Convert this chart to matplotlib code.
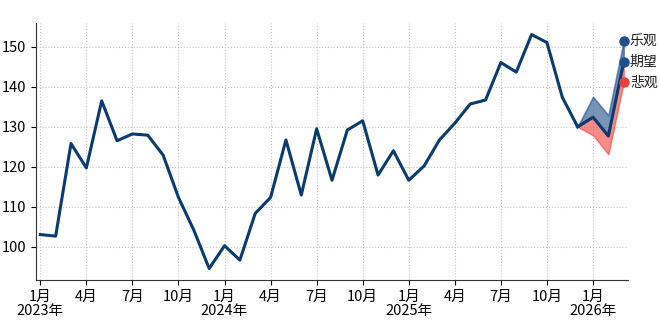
import matplotlib
matplotlib.use("Agg")
import matplotlib.pyplot as plt
import numpy as np

plt.rcParams['font.family'] = ['Noto Sans CJK SC', 'DejaVu Sans']

# monthly index history, Jan 2023 .. Dec 2025
history = [103.0, 102.6, 125.8, 119.7, 136.5, 126.5, 128.2, 127.9, 122.9, 112.3, 104.1, 94.5,
           100.2, 96.6, 108.3, 112.3, 126.7, 112.9, 129.5, 116.6, 129.2, 131.5, 117.9, 124.0,
           116.6, 120.2, 126.7, 130.9, 135.7, 136.7, 146.1, 143.7, 153.1, 151.1, 137.4, 130.0]

# forecast Dec 2025 .. Mar 2026
expected = [130.0, 132.4, 127.7, 146.3]
optimistic = [130.0, 137.5, 132.9, 151.5]
pessimistic = [130.0, 127.9, 123.1, 141.1]
scenario_names = ['乐观', '期望', '悲观']

tick_labels = ['1月\n2023年', '4月', '7月', '10月',
               '1月\n2024年', '4月', '7月', '10月',
               '1月\n2025年', '4月', '7月', '10月',
               '1月\n2026年']

navy = '#0b3a6f'
blue = '#1e4f8a'
red = '#ee3f3a'

x_hist = np.arange(len(history))
x_fc = np.arange(len(history) - 1, len(history) - 1 + len(expected))

fig = plt.figure(figsize=(6.6, 3.23), dpi=100)
ax = fig.add_axes([0.055, 0.133, 0.897, 0.797])

ax.fill_between(x_fc, expected, optimistic, color=blue, alpha=0.6, linewidth=1.2,
                edgecolor=blue, zorder=2)
ax.fill_between(x_fc, pessimistic, expected, color=red, alpha=0.6, linewidth=1.0,
                edgecolor=red, zorder=2)
ax.plot(x_hist, history, color=navy, lw=2.2, zorder=3)
ax.plot(x_fc, expected, color=navy, lw=2.2, zorder=3)

ends = [optimistic[-1], expected[-1], pessimistic[-1]]
dot_colors = [blue, blue, red]
for name, v, c in zip(scenario_names, ends, dot_colors):
    ax.scatter([x_fc[-1]], [v], s=42, color=c, zorder=4, clip_on=False)
    ax.annotate(name, (x_fc[-1], v), xytext=(4.5, 0), textcoords='offset points',
                va='center', ha='left', fontsize=10, color='#222222')

ax.set_xticks(np.arange(0, len(tick_labels) * 3, 3))
ax.set_xticklabels(tick_labels, fontsize=10.5, linespacing=1.0)
ax.set_yticks([100, 110, 120, 130, 140, 150])
ax.tick_params(axis='y', labelsize=10.5)
ax.set_xlim(-0.26, 38.3)
ax.set_ylim(91.6, 156.1)

ax.grid(True, linestyle=':', color='#c4c4c4', linewidth=0.8)
ax.set_axisbelow(True)
ax.spines['top'].set_visible(False)
ax.spines['right'].set_visible(False)
ax.spines['left'].set_color('#333333')
ax.spines['bottom'].set_color('#333333')

fig.savefig('out.png', dpi=100)
